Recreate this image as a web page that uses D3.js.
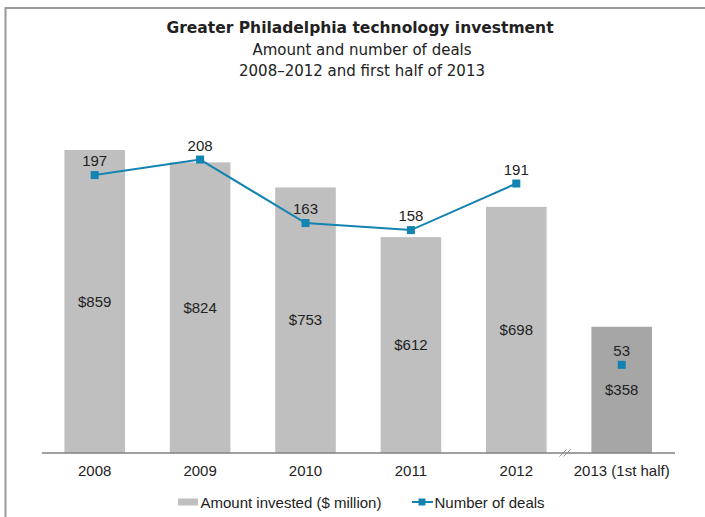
<!DOCTYPE html>
<html>
<head>
<meta charset="utf-8">
<script src="https://cdn.jsdelivr.net/npm/d3@7"></script>
<style>
  html, body { margin: 0; padding: 0; background: #fff; }
  svg { display: block; }
  text { font-family: "Liberation Sans", Arial, sans-serif; fill: #222; }
</style>
</head>
<body>
<svg id="chart" width="705" height="517"></svg>
<script>
const categories = ["2008", "2009", "2010", "2011", "2012", "2013 (1st half)"];
const amounts = [859, 824, 753, 612, 698, 358];
const deals = [197, 208, 163, 158, 191, 53];
const amountLabels = ["$859", "$824", "$753", "$612", "$698", "$358"];
const title = "Greater Philadelphia technology investment";
const subtitles = ["Amount and number of deals", "2008\u20132012 and first half of 2013"];
const legendLabels = ["Amount invested ($ million)", "Number of deals"];

const svg = d3.select("#chart");
const W = 705, H = 517;
const baseY = 453, topY = 100.3;
const lineColor = "#1384b1";

// frame
svg.append("line").attr("x1", 5.5).attr("x2", 5.5).attr("y1", 7).attr("y2", H)
  .attr("stroke", "#9a9a9a").attr("stroke-width", 2);
svg.append("line").attr("x1", 5).attr("x2", W).attr("y1", 8).attr("y2", 8)
  .attr("stroke", "#9a9a9a").attr("stroke-width", 2);

// titles
svg.append("text").attr("x", 360).attr("y", 33).attr("text-anchor", "middle")
  .style("font-family", "'DejaVu Sans', sans-serif")
  .style("font-size", "15.5px").style("font-weight", "bold").text(title);
subtitles.forEach((s, i) => {
  svg.append("text").attr("x", 362).attr("y", 55 + i * 20.5).attr("text-anchor", "middle")
    .style("font-family", "'DejaVu Sans', sans-serif")
    .style("font-size", "15px").text(s);
});

const x = d3.scaleBand().domain(categories).range([42, 674.4])
  .paddingInner(0.425).paddingOuter(0.2125);
const yBar = d3.scaleLinear().domain([0, 1000]).range([baseY, topY]);
const yLine = d3.scaleLinear().domain([0, 250]).range([baseY, topY]);
// after the axis break, the half-year deal count sits on its own scale
const yHalf = d3.scaleLinear().domain([0, 212]).range([baseY, topY]);

const data = categories.map((c, i) => ({ c, a: amounts[i], d: deals[i], la: amountLabels[i], i }));
const yDeal = d => (d.i === 5 ? yHalf : yLine)(d.d);

// bars
svg.append("g").selectAll("rect").data(data).join("rect")
  .attr("x", d => x(d.c)).attr("width", x.bandwidth())
  .attr("y", d => yBar(d.a)).attr("height", d => baseY - yBar(d.a))
  .attr("fill", d => d.i === 5 ? "#a6a6a6" : "#bfbfbf");

// axis
const axis = d3.axisBottom(x).tickSize(0).tickPadding(12);
const gAxis = svg.append("g").attr("transform", `translate(0,${baseY})`).call(axis);
gAxis.select(".domain").attr("stroke", "#808080").attr("stroke-width", 1.5)
  .attr("d", "M42,0H675");
gAxis.selectAll(".tick text").style("font-size", "15px").style("font-family", "Liberation Sans, Arial, sans-serif")
  .attr("fill", "#222");

// break marker
const bx = (x("2012") + x.bandwidth() + x("2013 (1st half)")) / 2 - 3.5;
[-2, 2].forEach(o => {
  svg.append("path")
    .attr("d", `M${bx - 4 + o},${baseY + 3.5} L${bx + 3 + o},${baseY - 3.5}`)
    .attr("stroke", "#888").attr("stroke-width", 0.9).attr("fill", "none");
});

// amount labels
svg.append("g").selectAll("text").data(data).join("text")
  .attr("x", d => x(d.c) + x.bandwidth() / 2)
  .attr("y", d => (yBar(d.a) + baseY) / 2 + 5)
  .attr("text-anchor", "middle").style("font-size", "15px").text(d => d.la);

// line (first five)
const cx = d => x(d.c) + x.bandwidth() / 2;
const line = d3.line().x(cx).y(yDeal);
svg.append("path").datum(data.slice(0, 5)).attr("d", line)
  .attr("fill", "none").attr("stroke", lineColor).attr("stroke-width", 2);

svg.append("g").selectAll("rect").data(data).join("rect")
  .attr("x", d => cx(d) - 4).attr("y", d => yDeal(d) - 4)
  .attr("width", 8).attr("height", 8).attr("fill", lineColor);

svg.append("g").selectAll("text").data(data).join("text")
  .attr("x", cx).attr("y", d => yDeal(d) - 9)
  .attr("text-anchor", "middle").style("font-size", "15px").text(d => d.d);

// legend
const lg = svg.append("g");
lg.append("rect").attr("x", 178).attr("y", 498.5).attr("width", 20).attr("height", 7).attr("fill", "#bfbfbf");
lg.append("text").attr("x", 200.5).attr("y", 508).style("font-size", "15px").text(legendLabels[0]);
lg.append("line").attr("x1", 412).attr("x2", 433).attr("y1", 502).attr("y2", 502)
  .attr("stroke", lineColor).attr("stroke-width", 2);
lg.append("rect").attr("x", 418.5).attr("y", 498.5).attr("width", 7).attr("height", 7).attr("fill", lineColor);
lg.append("text").attr("x", 434.5).attr("y", 508).style("font-size", "15px").text(legendLabels[1]);
</script>
</body>
</html>
